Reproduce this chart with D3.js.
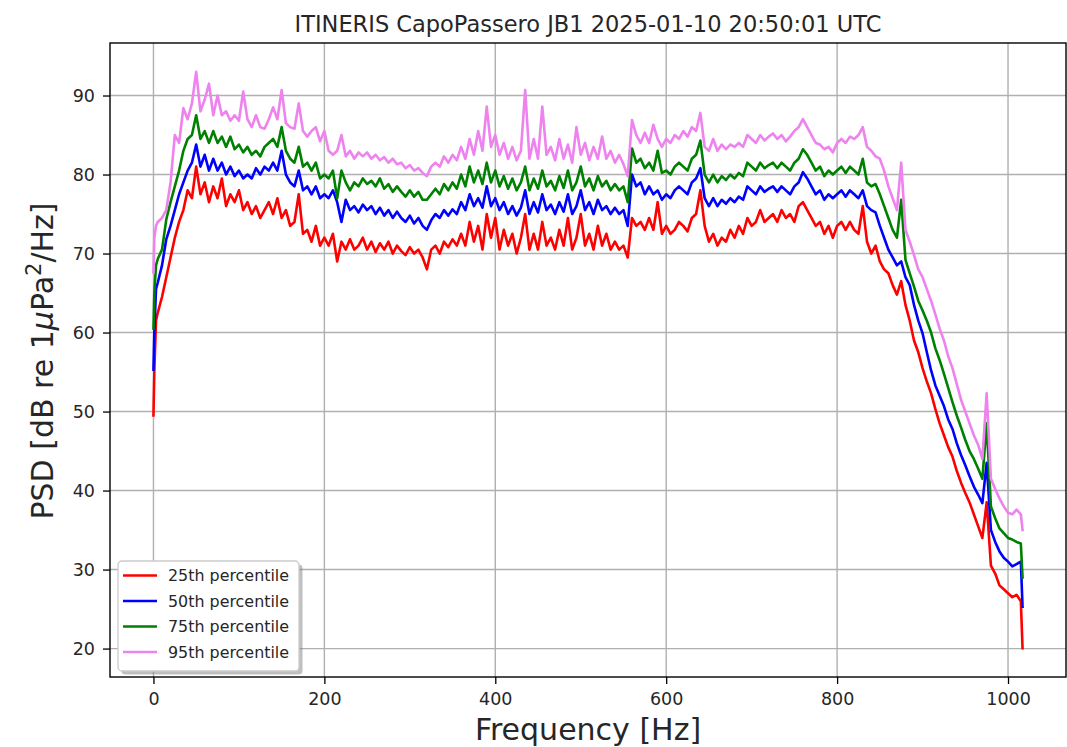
<!DOCTYPE html>
<html>
<head>
<meta charset="utf-8">
<script src="https://cdn.jsdelivr.net/npm/d3@7"></script>
<style>
  html, body { margin: 0; padding: 0; background: #ffffff; }
  svg { display: block; font-family: "DejaVu Sans", sans-serif; }
</style>
</head>
<body>
<svg id="chart" width="1067" height="747"></svg>
<script>
// ---------------- data ----------------
const title = "ITINERIS CapoPassero JB1 2025-01-10 20:50:01 UTC";
const xLabel = "Frequency [Hz]";
const xTicks = [0, 200, 400, 600, 800, 1000];
const yTicks = [20, 30, 40, 50, 60, 70, 80, 90];
const seriesNames = ["25th percentile", "50th percentile", "75th percentile", "95th percentile"];
const seriesColors = ["#ff0000", "#0000ff", "#008000", "#ee82ee"];

const freq = [0, 1, 3,
  5, 10, 15, 20, 25, 30, 35, 40, 45, 50,
  55, 60, 65, 70, 75, 80, 85, 90, 95, 100,
  105, 110, 115, 120, 125, 130, 135, 140, 145, 150,
  155, 160, 165, 170, 175, 180, 185, 190, 195, 200,
  205, 210, 215, 220, 225, 230, 235, 240, 245, 250,
  255, 260, 265, 270, 275, 280, 285, 290, 295, 300,
  305, 310, 315, 320, 325, 330, 335, 340, 345, 350,
  355, 360, 365, 370, 375, 380, 385, 390, 395, 400,
  405, 410, 415, 420, 425, 430, 435, 440, 445, 450,
  455, 460, 465, 470, 475, 480, 485, 490, 495, 500,
  505, 510, 515, 520, 525, 530, 535, 540, 545, 550,
  555, 560, 565, 570, 575, 580, 585, 590, 595, 600,
  605, 610, 615, 620, 625, 630, 635, 640, 645, 650,
  655, 660, 665, 670, 675, 680, 685, 690, 695, 700,
  705, 710, 715, 720, 725, 730, 735, 740, 745, 750,
  755, 760, 765, 770, 775, 780, 785, 790, 795, 800,
  805, 810, 815, 820, 825, 830, 835, 840, 845, 850,
  855, 860, 865, 870, 875, 880, 885, 890, 895, 900,
  905, 910, 915, 920, 925, 930, 935, 940, 945, 950,
  955, 960, 965, 970, 975, 980, 985, 990, 995, 1000,
  1005, 1010, 1015, 1017];

const p25 = [49.5, 55.0, 61.5,
  62.5, 64.5, 67.0, 69.5, 72.0, 74.0, 75.5, 78.0, 77.0, 81.0,
  77.5, 79.0, 76.5, 78.5, 77.0, 79.5, 76.0, 77.5, 76.5, 78.0,
  75.5, 76.5, 75.0, 76.0, 74.5, 75.5, 76.5, 75.0, 77.0, 74.5,
  75.5, 73.5, 74.0, 77.5, 72.5, 73.0, 71.5, 73.5, 71.0, 72.0,
  71.0, 72.5, 69.0, 71.5, 70.5, 71.8, 70.5, 71.0, 72.0, 70.5,
  71.5, 70.2, 71.3, 70.5, 71.5, 70.0, 71.0, 70.3, 69.8, 70.8,
  70.0, 70.5, 69.5, 68.0, 70.5, 71.0, 70.0, 71.5, 70.8, 71.8,
  71.0, 72.5, 71.0, 74.0, 71.5, 73.5, 70.5, 75.0, 72.0, 74.5,
  70.5, 73.0, 71.0, 72.5, 70.0, 72.0, 75.0, 70.5, 72.5, 70.5,
  74.0, 71.0, 72.0, 70.5, 73.0, 71.0, 74.5, 70.5, 72.0, 75.0,
  71.0, 72.5, 70.5, 73.5, 71.0, 72.5, 70.5, 71.5, 70.5, 71.0,
  69.5, 74.5, 73.5, 74.0, 73.0, 74.5, 73.0, 76.5, 72.5, 73.5,
  72.5, 73.0, 74.0, 73.5, 72.8, 74.5, 75.0, 78.0, 73.5, 71.5,
  72.5, 71.0, 72.0, 71.5, 73.0, 72.0, 73.5, 72.5, 74.5, 73.5,
  74.0, 75.5, 74.0, 74.5, 75.0, 74.0, 75.5, 74.5, 75.0, 74.0,
  76.0, 76.5, 75.5, 74.5, 73.5, 74.0, 72.5, 73.5, 72.0, 73.5,
  74.0, 73.0, 74.0, 73.0, 72.5, 76.0, 71.5, 70.0, 71.0, 69.0,
  68.0, 67.5, 66.0, 64.8, 66.5, 63.5, 61.5, 59.0, 57.5, 55.5,
  53.8, 52.3, 50.3, 48.5, 47.0, 45.5, 44.3, 42.5, 41.0, 39.7,
  38.5, 37.0, 35.5, 34.0, 38.5, 30.5, 29.5, 28.0, 27.5, 27.0,
  26.5, 26.8, 26.0, 20.05];

const p50 = [55.3, 60.0, 65.5,
  66.3, 68.5, 71.8, 73.5, 75.5, 77.5, 79.0, 80.5, 81.5, 83.8,
  81.0, 82.5, 80.5, 82.0, 80.5, 81.5, 80.0, 81.0, 79.8, 80.5,
  79.5, 80.0, 79.5, 80.8, 80.0, 81.0, 80.5, 81.5, 80.5, 83.0,
  80.0, 79.0, 78.5, 80.5, 78.0, 78.5, 77.5, 78.5, 77.0, 77.5,
  77.0, 78.0, 76.5, 74.0, 76.8, 75.5, 76.0, 75.2, 76.2, 75.5,
  76.0, 75.0, 75.8, 74.8, 75.5, 74.5, 75.3, 74.5, 74.0, 74.8,
  73.8, 74.5, 73.5, 73.0, 74.2, 75.0, 74.5, 75.5, 74.8, 75.6,
  75.0, 76.5, 75.5, 77.5, 76.0, 77.0, 75.8, 78.5, 76.0, 77.0,
  75.5, 76.5, 75.0, 76.0, 74.8, 75.8, 78.0, 75.0, 76.5, 75.2,
  77.5, 75.5, 76.2, 75.0, 76.5, 75.3, 77.5, 75.0, 76.0, 78.0,
  75.5, 76.5, 75.0, 76.8, 75.5, 76.0, 75.0, 75.8, 75.0, 75.5,
  73.5, 80.0, 78.5, 79.0, 77.5, 78.5, 77.5, 78.0, 76.8, 77.5,
  77.0, 78.0, 78.5, 78.0, 77.5, 79.0, 79.5, 80.8, 77.0, 76.0,
  77.0, 76.0, 76.8, 76.3, 77.0, 76.5, 77.2, 76.8, 78.5, 78.0,
  77.5, 78.5, 77.8, 78.2, 78.5, 77.8, 78.5, 78.0, 77.5, 78.5,
  79.0, 80.3, 79.5, 78.5, 77.5, 78.0, 76.8, 77.5, 77.0, 77.5,
  78.0, 77.2, 78.0, 77.5, 77.0, 78.0, 76.0, 75.5, 75.2, 73.5,
  72.0, 70.5, 69.5, 68.5, 69.0, 67.0, 66.0, 63.5, 61.5, 59.9,
  57.5, 55.2, 53.3, 52.0, 50.7, 49.0, 47.8, 46.0, 44.5, 43.2,
  41.8, 40.5, 39.5, 38.4, 43.5, 35.0, 33.5, 32.3, 31.5, 31.0,
  30.4, 30.7, 31.0, 25.3];

const p75 = [60.5, 65.0, 68.5,
  69.3, 70.5, 74.3, 76.5, 78.5, 80.5, 83.0, 84.5, 85.0, 87.5,
  84.5, 85.5, 84.0, 85.5, 84.0, 84.8, 83.5, 84.8, 83.2, 83.8,
  82.8, 83.5, 82.5, 83.0, 82.3, 83.5, 84.0, 84.5, 83.5, 86.0,
  83.0, 82.0, 81.5, 83.5, 81.0, 81.5, 80.5, 81.5, 79.5, 80.0,
  79.5, 80.5, 77.0, 80.5, 79.0, 78.0, 79.0, 78.5, 79.5, 78.8,
  79.2, 78.5, 79.5, 78.2, 78.8, 77.8, 78.5, 77.8, 77.2, 78.0,
  77.2, 77.8, 76.8, 76.8, 77.5, 78.2, 77.5, 78.8, 78.0, 79.0,
  78.2, 80.0, 78.5, 81.0, 79.0, 80.5, 78.8, 81.5, 79.0, 80.5,
  78.5, 79.8, 78.2, 79.5, 78.0, 79.0, 81.0, 78.0, 79.5, 78.2,
  80.5, 78.5, 79.2, 78.0, 79.8, 78.3, 80.5, 78.0, 79.0, 81.0,
  78.5, 79.5, 78.0, 79.8, 78.5, 79.2, 78.0, 78.8, 78.0, 78.5,
  76.5, 83.3, 81.5, 82.0, 80.8, 81.5, 80.5, 83.0, 80.2, 80.5,
  80.0, 81.0, 81.5, 81.0, 80.5, 82.0, 82.5, 84.3, 80.0, 79.0,
  80.0, 79.0, 79.8, 79.3, 80.0, 79.5, 80.2, 79.8, 81.5, 81.0,
  80.5, 81.5, 80.8, 81.2, 81.5, 80.8, 81.5, 81.0, 80.5, 81.5,
  82.0, 83.2, 82.5, 81.5, 80.5, 81.0, 79.8, 80.5, 80.0, 80.5,
  81.0, 80.2, 81.0, 80.5, 80.0, 82.0, 79.0, 78.5, 78.8, 77.5,
  76.0, 74.5, 73.0, 72.0, 76.8, 69.2, 67.5, 65.8, 64.0, 62.8,
  61.5, 60.0, 58.0, 56.5, 54.8, 53.0, 51.2, 49.5, 48.0, 46.4,
  45.0, 44.0, 42.8, 41.5, 48.5, 38.0, 36.5, 35.2, 34.6, 34.0,
  33.8, 33.5, 33.3, 29.0];

const p95 = [67.6, 72.0, 73.5,
  74.0, 74.5, 75.5, 79.0, 85.0, 84.0, 88.4, 87.0, 89.0, 93.0,
  88.0, 89.5, 91.5, 87.5, 90.0, 87.5, 88.0, 86.8, 87.5, 86.8,
  90.5, 87.0, 86.0, 87.5, 86.0, 85.8, 87.0, 88.5, 87.0, 90.7,
  86.5, 86.0, 85.8, 89.0, 85.5, 84.8, 85.5, 86.0, 84.2, 85.5,
  83.0, 82.5, 83.0, 85.0, 82.3, 83.0, 82.0, 82.8, 82.3, 82.8,
  82.0, 82.5, 81.8, 82.2, 81.5, 82.0, 81.3, 81.5, 80.8, 81.2,
  80.5, 80.8, 80.2, 79.8, 81.0, 81.5, 81.0, 82.3, 81.5, 82.5,
  81.8, 83.5, 82.0, 84.5, 82.5, 85.5, 83.0, 88.6, 83.5, 85.0,
  82.5, 84.0, 82.0, 83.5, 81.8, 83.0, 90.7, 82.0, 84.5, 82.0,
  88.6, 82.5, 83.5, 81.8, 84.5, 82.0, 83.8, 81.5, 86.0, 82.5,
  84.0, 81.8, 83.5, 82.0, 84.8, 82.0, 83.0, 81.5, 82.5, 81.3,
  79.8, 86.9, 85.0, 84.0, 85.3, 84.0, 86.3, 84.5, 83.5, 84.5,
  84.0, 85.0, 84.5, 85.5, 84.8, 86.0, 85.5, 87.8, 83.5, 83.0,
  84.5, 83.0, 83.8, 83.2, 83.8, 83.5, 84.0, 83.5, 85.0, 84.5,
  84.0, 85.0, 84.3, 84.8, 85.2, 84.5, 85.0, 84.2, 84.8, 85.5,
  86.0, 87.0, 86.0, 85.0, 84.0, 83.8, 83.2, 83.5, 82.8, 84.0,
  84.5, 84.0, 84.8, 84.5, 85.0, 86.0, 83.5, 83.0, 82.3, 82.0,
  80.5, 78.5, 77.0, 75.5, 81.5, 73.0, 71.5, 69.8, 68.0, 67.0,
  65.5, 64.0, 62.3, 60.5, 59.0, 57.0, 55.5, 53.5, 51.5, 50.0,
  48.5, 47.0, 45.8, 44.0, 52.3, 41.5, 40.2, 39.0, 38.0, 37.2,
  37.0, 37.6, 37.0, 35.0];

const seriesValues = [p25, p50, p75, p95];

// ---------------- layout ----------------
const svg = d3.select("#chart");
const W = 1067, H = 747;
const plot = { left: 110, right: 1066, top: 43, bottom: 677 };
const FONT = "'DejaVu Sans', sans-serif";
const TEXT = "#262626";

// matplotlib-like 5% margins around the data extent
const xExt = d3.extent(freq);
const xPad = (xExt[1] - xExt[0]) * 0.05;
const allVals = seriesValues.flat();
const yExt = d3.extent(allVals);
const yPad = (yExt[1] - yExt[0]) * 0.05;

const x = d3.scaleLinear().domain([xExt[0] - xPad, xExt[1] + xPad]).range([plot.left, plot.right]);
const y = d3.scaleLinear().domain([yExt[0] - yPad, yExt[1] + yPad]).range([plot.bottom, plot.top]);

svg.append("rect").attr("width", W).attr("height", H).attr("fill", "#ffffff");

// grid
const grid = svg.append("g").attr("class", "grid");
grid.selectAll("line.gx").data(xTicks).enter().append("line")
  .attr("x1", d => x(d)).attr("x2", d => x(d))
  .attr("y1", plot.top).attr("y2", plot.bottom)
  .attr("stroke", "#b0b0b0").attr("stroke-width", 1.4);
grid.selectAll("line.gy").data(yTicks).enter().append("line")
  .attr("x1", plot.left).attr("x2", plot.right)
  .attr("y1", d => y(d)).attr("y2", d => y(d))
  .attr("stroke", "#b0b0b0").attr("stroke-width", 1.4);

// clip
svg.append("clipPath").attr("id", "clip").append("rect")
  .attr("x", plot.left).attr("y", plot.top)
  .attr("width", plot.right - plot.left).attr("height", plot.bottom - plot.top);

// lines
const line = d3.line().x((d, i) => x(freq[i])).y(d => y(d));
const lines = svg.append("g").attr("clip-path", "url(#clip)");
seriesValues.forEach((vals, k) => {
  lines.append("path")
    .datum(vals)
    .attr("d", line)
    .attr("fill", "none")
    .attr("stroke", seriesColors[k])
    .attr("stroke-width", 2.6)
    .attr("stroke-linejoin", "round")
    .attr("stroke-linecap", "square");
});

// axes
const xAxis = d3.axisBottom(x).tickValues(xTicks).tickSize(7).tickPadding(9).tickFormat(d3.format("d"));
const gx = svg.append("g").attr("transform", `translate(0,${plot.bottom})`).call(xAxis);
gx.select(".domain").remove();
gx.selectAll(".tick line").attr("stroke", "#000").attr("stroke-width", 1.3);
gx.selectAll(".tick text").attr("font-family", FONT).attr("font-size", 17.5).attr("fill", TEXT);

const yAxis = d3.axisLeft(y).tickValues(yTicks).tickSize(7).tickPadding(8).tickFormat(d3.format("d"));
const gy = svg.append("g").attr("transform", `translate(${plot.left},0)`).call(yAxis);
gy.select(".domain").remove();
gy.selectAll(".tick line").attr("stroke", "#000").attr("stroke-width", 1.3);
gy.selectAll(".tick text").attr("font-family", FONT).attr("font-size", 17.5).attr("fill", TEXT);

// spines
svg.append("rect")
  .attr("x", plot.left).attr("y", plot.top)
  .attr("width", plot.right - plot.left).attr("height", plot.bottom - plot.top)
  .attr("fill", "none").attr("stroke", "#000").attr("stroke-width", 1.4);

// title
svg.append("text")
  .attr("x", (plot.left + plot.right) / 2).attr("y", 32)
  .attr("text-anchor", "middle")
  .attr("font-family", FONT).attr("font-size", 22.5).attr("fill", TEXT)
  .text(title);

// x label
svg.append("text")
  .attr("x", (plot.left + plot.right) / 2).attr("y", 740)
  .attr("text-anchor", "middle")
  .attr("font-family", FONT).attr("font-size", 30).attr("fill", TEXT)
  .text(xLabel);

// y label: PSD [dB re 1μPa²/Hz]
const yl = svg.append("text")
  .attr("transform", `translate(53,${(plot.top + plot.bottom) / 2 + 1}) rotate(-90)`)
  .attr("text-anchor", "middle")
  .attr("font-family", FONT).attr("font-size", 30).attr("fill", TEXT);
yl.append("tspan").text("PSD [dB re 1");
yl.append("tspan").attr("font-style", "italic").text("\u03bc");
yl.append("tspan").text("Pa");
yl.append("tspan").attr("font-size", 21).attr("dy", -12).text("2");
yl.append("tspan").attr("dy", 12).text("/Hz]");

// legend
const leg = { x: 118, y: 561, w: 181, h: 110 };
svg.append("rect")
  .attr("x", leg.x + 3.5).attr("y", leg.y + 3.5)
  .attr("width", leg.w).attr("height", leg.h).attr("rx", 4)
  .attr("fill", "#808080").attr("opacity", 0.5);
svg.append("rect")
  .attr("x", leg.x).attr("y", leg.y)
  .attr("width", leg.w).attr("height", leg.h).attr("rx", 4)
  .attr("fill", "#ffffff").attr("stroke", "#cccccc").attr("stroke-width", 1.3);
const rowY = [575.5, 601, 626.5, 652];
seriesNames.forEach((name, k) => {
  svg.append("line")
    .attr("x1", 123).attr("x2", 157)
    .attr("y1", rowY[k]).attr("y2", rowY[k])
    .attr("stroke", seriesColors[k]).attr("stroke-width", 2.6);
  svg.append("text")
    .attr("x", 168).attr("y", rowY[k]).attr("dy", "0.36em")
    .attr("font-family", FONT).attr("font-size", 15.9).attr("fill", TEXT)
    .text(name);
});
</script>
</body>
</html>
